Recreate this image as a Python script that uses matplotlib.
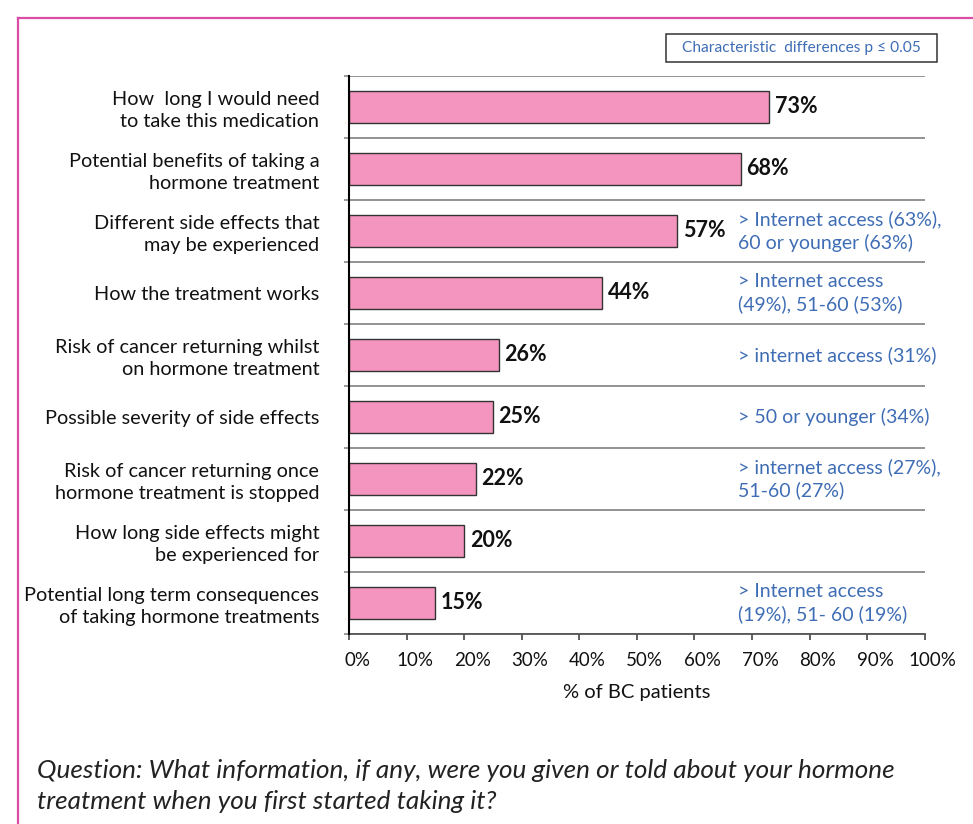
import matplotlib
matplotlib.use("Agg")
import matplotlib.pyplot as plt
from matplotlib.lines import Line2D
from matplotlib.patches import Rectangle
import matplotlib.transforms as mtransforms

plt.rcParams['font.family'] = ['Lato', 'DejaVu Sans']

# --- data ---
categories = [
    "How  long I would need\nto take this medication",
    "Potential benefits of taking a\nhormone treatment",
    "Different side effects that\nmay be experienced",
    "How the treatment works",
    "Risk of cancer returning whilst\non hormone treatment",
    "Possible severity of side effects",
    "Risk of cancer returning once\nhormone treatment is stopped",
    "How long side effects might\nbe experienced for",
    "Potential long term consequences\nof taking hormone treatments",
]
values = [73, 68, 57, 44, 26, 25, 22, 20, 15]
differences = [
    "",
    "",
    "> Internet access (63%),\n60 or younger (63%)",
    "> Internet access\n(49%), 51-60 (53%)",
    "> internet access (31%)",
    "> 50 or younger (34%)",
    "> internet access (27%),\n51-60 (27%)",
    "",
    "> Internet access\n(19%), 51- 60 (19%)",
]
x_ticks = [0, 10, 20, 30, 40, 50, 60, 70, 80, 90, 100]
x_tick_labels = [f"{t}%" for t in x_ticks]

BAR = "#F495BF"
BLUE = "#3F6DB5"
FRAME = "#DA4BA4"
GRID = "#8a8a8a"

fig = plt.figure(figsize=(9.73, 8.24), dpi=100)
ax = fig.add_axes([0.3587, 0.2306, 0.5917, 0.6772])

ypos = list(range(len(categories)))
ax.barh(ypos, values, height=0.53, color=BAR, edgecolor="#333333", linewidth=1.0, zorder=3)

ax.set_xlim(0, 100)
ax.set_ylim(len(categories) - 0.5, -0.5)

# category labels
ax.set_yticks(ypos)
ax.set_yticklabels(categories, fontsize=14.3, color="#111111", linespacing=1.33)
ax.tick_params(axis="y", which="major", length=0, pad=21.5)
for lbl in ax.get_yticklabels():
    lbl.set_horizontalalignment("right")
    lbl.set_multialignment("right")

# row separators
bounds = [i - 0.5 for i in range(len(categories) + 1)]
ax.set_yticks(bounds, minor=True)
ax.tick_params(axis="y", which="minor", length=3.6, width=1.2, color=GRID, direction="out")
ax.grid(True, axis="y", which="minor", color=GRID, linewidth=1.3, zorder=1)
ax.grid(False, axis="y", which="major")
ax.grid(False, axis="x")

# x axis
ax.set_xticks(x_ticks)
ax.set_xticklabels(x_tick_labels, fontsize=13.5, color="#111111")
ax.tick_params(axis="x", length=4, width=1.2, color="#444444", pad=9)
offset = mtransforms.ScaledTranslation(8 / 100, 0, fig.dpi_scale_trans)
for lbl in ax.get_xticklabels():
    lbl.set_transform(lbl.get_transform() + offset)
ax.set_xlabel("% of BC patients", fontsize=14.5, color="#111111", labelpad=11)

for side in ("top", "right"):
    ax.spines[side].set_visible(False)
ax.spines["left"].set_color("#000000")
ax.spines["left"].set_linewidth(1.5)
ax.spines["left"].set_zorder(4)
ax.spines["bottom"].set_color("#555555")
ax.spines["bottom"].set_linewidth(1.3)

# value labels
for y, v in zip(ypos, values):
    ax.annotate(f"{v}%", xy=(v, y), xytext=(4, 0), textcoords="offset points",
                ha="left", va="center", fontsize=15.5, fontweight="bold", color="#111111")

# significant characteristic differences
for y, txt in zip(ypos, differences):
    if txt:
        ax.text(67.5, y, txt, ha="left", va="center", fontsize=14, color=BLUE,
                linespacing=1.37, zorder=5)

# legend box
fig.text((666 + 937) / 2 / 973, 1 - 48 / 824, "Characteristic  differences p \u2264 0.05",
         ha="center", va="center", fontsize=11.2, color=BLUE)
fig.patches.append(Rectangle((666 / 973, 1 - 62 / 824), (937 - 666) / 973, 28 / 824,
                             transform=fig.transFigure, fill=False, edgecolor="#333333",
                             linewidth=1.1))

# frame
fig.add_artist(Line2D([18 / 973, 1], [1 - 18 / 824] * 2, transform=fig.transFigure,
                      color=FRAME, linewidth=1.6))
fig.add_artist(Line2D([18 / 973] * 2, [0, 1 - 18 / 824], transform=fig.transFigure,
                      color=FRAME, linewidth=1.6))

# survey question
fig.text(37 / 973, 1 - 786 / 824,
         "Question: What information, if any, were you given or told about your hormone\n"
         "treatment when you first started taking it?",
         ha="left", va="center", fontsize=18.8, style="italic", color="#222222",
         linespacing=1.4)

fig.savefig("out.png", dpi=100)
